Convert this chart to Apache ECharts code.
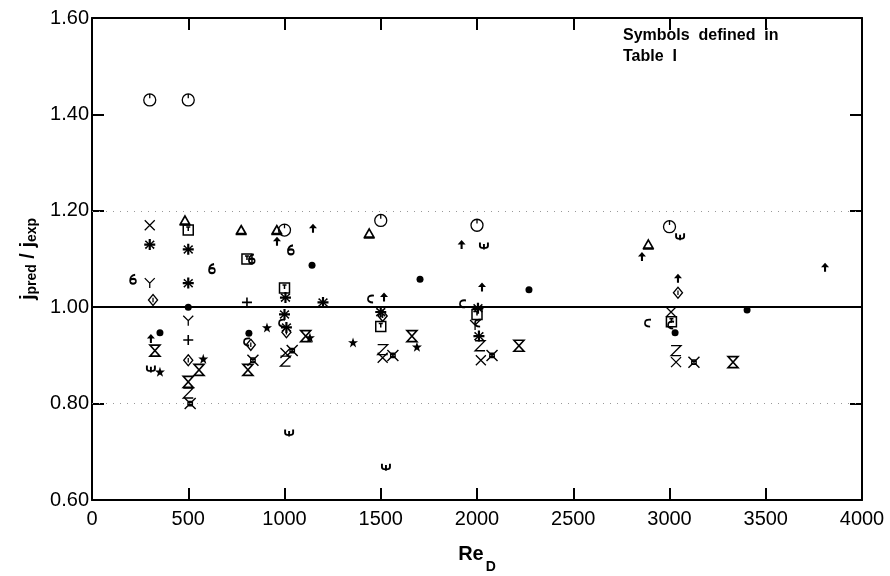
<!DOCTYPE html>
<html><head><meta charset="utf-8">
<script src="https://cdn.jsdelivr.net/npm/echarts@6/dist/echarts.min.js"></script>
<style>html,body{margin:0;padding:0;background:#fff}#c{width:890px;height:576px}</style>
</head><body><div id="c"></div>
<script>
// ---- data (Re_D, j_pred/j_exp) grouped by plotting symbol ----
const xTicks = [0, 500, 1000, 1500, 2000, 2500, 3000, 3500, 4000];
const yTicks = [0.60, 0.80, 1.00, 1.20, 1.40, 1.60];
const circleTick = [[300,1.43],[500,1.43],[1000,1.16],[1500,1.18],[2000,1.17],[3000,1.167]];
const triangle = [[483,1.18],[775,1.16],[960,1.16],[1440,1.153],[2890,1.13]];
const squareTick = [[500,1.16],[805,1.10],[1000,1.04],[1500,0.96],[2000,0.985],[3010,0.97]];
const asterisk = [[300,1.13],[500,1.12],[500,1.05],[1005,1.02],[1200,1.01],[1000,0.985],[1500,0.99],[1010,0.958],[2005,0.998],[2010,0.94]];
const cross = [[300,1.17],[1005,0.905],[1510,0.895],[2020,0.89],[3008,0.99],[3034,0.886]];
const ySym = [[300,1.05],[500,0.972],[1990,0.963]];
const zSym = [[500,0.822],[1005,0.888],[1510,0.912],[2016,0.92],[3034,0.91]];
const plus = [[500,0.932],[805,1.01]];
const hourglass = [[327,0.91],[556,0.87],[500,0.845],[810,0.87],[1110,0.94],[1662,0.94],[2218,0.92],[3330,0.886]];
const boxX = [[510,0.80],[836,0.89],[1040,0.91],[1563,0.90],[2078,0.90],[3127,0.886]];
const star = [[353,0.866],[578,0.893],[909,0.958],[1132,0.937],[1356,0.927],[1688,0.918]];
const diamond = [[317,1.015],[500,0.89],[825,0.922],[1010,0.948],[1510,0.982],[3044,1.03]];
const dot = [[353,0.947],[815,0.946],[1143,1.087],[1704,1.058],[2270,1.036],[3403,0.994],[500,1.0],[3029,0.947]];
const arrow = [[306,0.935],[961,1.137],[1148,1.164],[1517,1.021],[1920,1.13],[2026,1.042],[2857,1.105],[3044,1.06],[3808,1.083]];
const six = [[213,1.058],[623,1.08],[1033,1.119],[830,1.10]];
const psi = [[306,0.872],[1024,0.739],[1527,0.668],[2036,1.127],[3055,1.146]];
const hook = [[1449,1.017],[1927,1.007],[2888,0.967],[987,0.967],[805,0.928],[2005,0.967],[3008,0.963]];

const FONT = 'Liberation Sans';
function stroked(name, data, symbol, size, lw) {
  return { name, type: 'scatter', data, symbol, symbolSize: size, z: 3,
    itemStyle: { color: 'rgba(0,0,0,0)', borderColor: '#000', borderWidth: lw || 1.4, opacity: 1 } };
}
function filled(name, data, symbol, size) {
  return { name, type: 'scatter', data, symbol, symbolSize: size, z: 3,
    itemStyle: { color: '#000', borderWidth: 0, opacity: 1 } };
}
const series = [
  stroked('circleTick', circleTick, 'path://M5,0A5,5 0 1 1 4.99,0ZM5,0L5,3.5', 12, 1.3),
  stroked('triangle', triangle, 'path://M5,0L10,8L0,8ZM-1,9L11,9', [11,9], 1.6),
  stroked('squareTick', squareTick, 'path://M0,0L10,0L10,10L0,10ZM3,2L7,2M5,2L5,6', 10, 1.5),
  filled('asterisk', asterisk, 'path://M4,0L6,0L6,3.5L8.5,1L9.5,2.2L7,4L10,4L10,6L7,6L9.5,8L8.5,9.2L6,6.5L6,10L4,10L4,6.5L1.5,9.2L0.5,8L3,6L0,6L0,4L3,4L0.5,2.2L1.5,1L4,3.5Z', 11),
  stroked('cross', cross, 'path://M0,0L10,10M10,0L0,10', 10, 1.3),
  stroked('Y', ySym, 'path://M0,0L5,5L10,0M5,5L5,10', [10,10], 1.3),
  stroked('Z', zSym, 'path://M0,0L10,0L0,10L10,10', [10,10], 1.3),
  stroked('plus', plus, 'path://M5,0L5,10M0,5L10,5', 10, 1.6),
  stroked('hourglass', hourglass, 'path://M0,0L10,0L0,10L10,10Z', [10,11], 1.6),
  stroked('boxX', boxX, 'path://M0,0L10,10M10,0L0,10M3,3L7,3L7,7L3,7Z', 11, 1.4),
  filled('star', star, 'path://M5,0L6.2,3.6L10,3.6L7,5.9L8.1,9.5L5,7.3L1.9,9.5L3,5.9L0,3.6L3.8,3.6Z', 10),
  stroked('diamond', diamond, 'path://M5,0L10,5L5,10L0,5ZM5,3L5,7', [9,11], 1.4),
  filled('dot', dot, 'circle', 7),
  filled('arrow', arrow, 'path://M5,0L10,5L6.3,5L6.3,10L3.7,10L3.7,5L0,5Z', [8,9]),
  stroked('six', six, 'path://M7,0Q1,1 1,6.5Q1,10 4.5,10Q8,10 8,7Q8,4.5 4.5,4.5Q2,4.5 1,6.5', [6,9], 1.8),
  stroked('psi', psi, 'path://M0,0L0,5Q0,8 5,8Q10,8 10,5L10,0M5,2L5,10', [8,7], 1.8),
  stroked('hook', hook, 'path://M8,1Q1,0 1,5Q1,9 7,9', [6,7], 1.8)
];
// reference lines
series.push({
  type: 'line', data: [], silent: true,
  markLine: { symbol: 'none', silent: true, label: { show: false },
    data: [
      { yAxis: 1.0, lineStyle: { color: '#000', width: 2, type: 'solid' } },
      { yAxis: 0.8, lineStyle: { color: '#999', width: 1, type: [1, 6] } },
      { yAxis: 1.2, lineStyle: { color: '#999', width: 1, type: [1, 6] } }
    ] }
});

const chart = echarts.init(document.getElementById('c'), null, { renderer: 'canvas' });
const axisCommon = {
  axisLine: { show: true, onZero: false, lineStyle: { color: '#000', width: 2 } },
  axisTick: { show: true, inside: true, length: 12, lineStyle: { color: '#000', width: 2 } },
  splitLine: { show: false }
};
chart.setOption({
  animation: false,
  backgroundColor: '#fff',
  grid: { left: 92, right: 28, top: 18, bottom: 76, containLabel: false, outerBoundsMode: 'none' },
  xAxis: [
    Object.assign({ type: 'value', min: xTicks[0], max: xTicks[xTicks.length-1], interval: 500,
      axisLabel: { color: '#000', fontFamily: FONT, fontSize: 20, margin: 9, formatter: v => String(v) },
      name: '{a|Re}{s|D}', nameLocation: 'middle', nameGap: 44,
      nameTextStyle: { rich: {
        a: { fontFamily: FONT, fontSize: 20, fontWeight: 'bold', color: '#000', verticalAlign: 'top' },
        s: { fontFamily: FONT, fontSize: 14, fontWeight: 'bold', color: '#000', padding: [16, 0, 0, 2] } } }
    }, axisCommon),
    Object.assign({ type: 'value', position: 'top', min: 0, max: 4000, interval: 500, axisLabel: { show: false } }, axisCommon)
  ],
  yAxis: [
    Object.assign({ type: 'value', min: yTicks[0], max: yTicks[yTicks.length-1], interval: 0.2,
      axisLabel: { color: '#000', fontFamily: FONT, fontSize: 20, margin: 3, formatter: v => v.toFixed(2) },
      name: '{a|j}{s|pred}{a| / j}{s|exp}', nameLocation: 'middle', nameGap: 40,
      nameTextStyle: { rich: {
        a: { fontFamily: FONT, fontSize: 20, fontWeight: 'bold', color: '#000' },
        s: { fontFamily: FONT, fontSize: 14, fontWeight: 'bold', color: '#000', padding: [8, 0, 0, 0] } } }
    }, axisCommon),
    Object.assign({ type: 'value', position: 'right', min: 0.6, max: 1.6, interval: 0.2, axisLabel: { show: false } }, axisCommon)
  ],
  graphic: [
    { type: 'text', left: 623, top: 28, style: { text: 'Symbols  defined  in', fill: '#000', font: 'bold 16px ' + FONT } },
    { type: 'text', left: 623, top: 49, style: { text: 'Table  I', fill: '#000', font: 'bold 16px ' + FONT } }
  ],
  series
});
</script></body></html>
